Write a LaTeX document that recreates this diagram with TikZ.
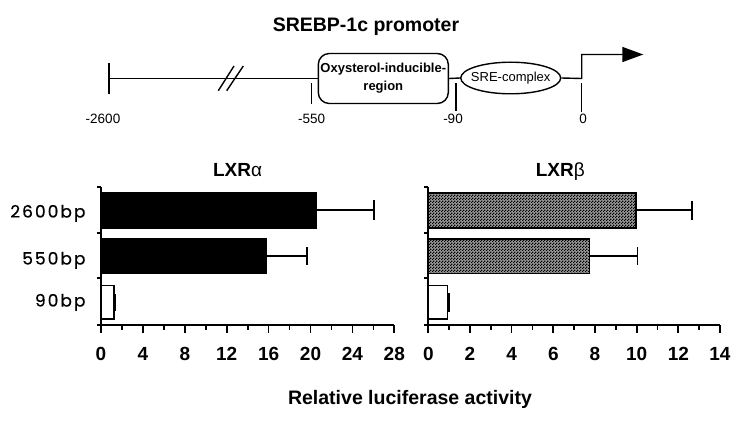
\documentclass[tikz,border=0pt]{standalone}
\usepackage{fontspec}
\setmainfont{Liberation Sans}
\newfontfamily\barfont[LetterSpace=12,FakeBold=0.6]{Poppins}
\usetikzlibrary{arrows.meta,patterns.meta,shapes.geometric}
\tikzdeclarepattern{name=fineDots, type=uncolored,
  bounding box={(0,0) and (2.6pt,2.6pt)}, tile size={(2.6pt,2.6pt)},
  code={\fill (0,0) rectangle (1.4pt,1.4pt); \fill (1.3pt,1.3pt) rectangle (2.6pt,2.6pt);}}
\tikzset{
  ln/.style={line width=1.4pt},
  axisln/.style={line width=1.7pt},
  barblack/.style={draw, line width=1.6pt, fill=black},
  barhatch/.style={draw, line width=1.6pt, fill=black!40, postaction={pattern=fineDots, pattern color=black}},
  barwhite/.style={draw, line width=1.6pt, fill=white},
  errln/.style={line width=1.5pt},
  poslabel/.style={font=\fontsize{13.5}{15}\selectfont},
  ticklabel/.style={font=\bfseries\fontsize{19}{22}\selectfont, anchor=base},
  rowlabel/.style={font=\barfont\fontsize{17}{20}\selectfont, anchor=base east},
  paneltitle/.style={font=\bfseries\fontsize{19}{22}\selectfont, anchor=base}
}
\begin{document}
\begin{tikzpicture}[x=1pt,y=-1pt]
\useasboundingbox (0,0) rectangle (738,425);

% ---------- promoter scheme ----------
\node[font=\bfseries\fontsize{19.5}{23}\selectfont, anchor=base] (title) at (366,31.7) {SREBP-1c promoter};

\coordinate (p0) at (109,78.5);
\node[draw, ln, rounded corners=11pt, minimum width=130pt, minimum height=50pt, inner sep=0pt,
      align=center, font=\bfseries\fontsize{13}{18}\selectfont] (oxy) at (383.3,78.5) {Oxysterol-inducible-\\region};
\node[draw, ln, ellipse, minimum width=100pt, minimum height=31.6pt, inner sep=0pt,
      font=\fontsize{13}{15}\selectfont] (sre) at (510.7,78) {\makebox[0pt]{SRE-complex}};
\coordinate (tss) at (581.7,78.5);
\coordinate (tssup) at (581.7,54.5);
\coordinate (tip) at (643.3,54.5);

\draw[ln] (p0) -- (oxy.west);
\draw[ln] (oxy.east) -- (sre.west);
\draw[ln, -{Triangle[length=21pt,width=15pt]}] (sre.east) -- (tss) -- (tssup) -- (tip);

% break marks
\draw[ln] (218.3,90.7) -- (234,66);
\draw[ln] (226.7,90.7) -- (243.3,66);

% position ticks
\draw[ln] (109,62.7) -- (109,94);
\draw[ln] (311.7,83.3) -- (311.7,104.3);
\draw[ln] (456,83.3) -- (456,110.7);
\draw[ln] (581.7,83.3) -- (581.7,111.7);
\node[poslabel] (l2600) at (103,119) {-2600};
\node[poslabel] (l550) at (311.7,119) {-550};
\node[poslabel] (l90) at (453,119) {-90};
\node[poslabel] (l0) at (583,119) {0};

% ---------- left panel (LXR alpha) ----------
\node[paneltitle] (ta) at (237.5,176) {LXR{\mdseries α}};
\draw[axisln] (101,186.7) -- (101,325) -- (394,325);
\foreach \y in {186.7,233.3,278.3,325} \draw[axisln] (97,\y) -- (101,\y);
\foreach \i in {0,...,7} \draw[axisln] (101+41.9*\i,325) -- (101+41.9*\i,332.5);
\foreach \i in {0,...,6} \draw[axisln] (101+41.9*\i+20.95,325) -- (101+41.9*\i+20.95,330);
\foreach \v [count=\i from 0] in {0,4,8,12,16,20,24,28}
  \node[ticklabel] at (101+41.9*\i,360) {\v};

\draw[barblack] (101,192.7) rectangle (315.7,227.7);
\draw[errln] (315.7,210.2) -- (374,210.2);
\draw[errln] (374,200) -- (374,219.5);
\draw[barblack] (101,239) rectangle (266.3,273.3);
\draw[errln] (266.3,256) -- (307,256);
\draw[errln] (307,247.3) -- (307,264.7);
\draw[barwhite] (101,285.3) rectangle (113.7,318.7);
\draw[line width=2pt] (114.8,294) -- (114.8,310.7);

\node[rowlabel] (r1) at (89,217.5) {2600bp};
\node[rowlabel] (r2) at (89,264.5) {550bp};
\node[rowlabel] (r3) at (89,306.5) {90bp};

% ---------- right panel (LXR beta) ----------
\node[paneltitle] (tb) at (560.3,176) {LXR{\mdseries β}};
\draw[axisln] (428.3,186.7) -- (428.3,325) -- (720,325);
\foreach \y in {186.7,233.3,278.3,325} \draw[axisln] (424.3,\y) -- (428.3,\y);
\foreach \i in {0,...,7} \draw[axisln] (428.3+41.67*\i,325) -- (428.3+41.67*\i,332.5);
\foreach \i in {0,...,6} \draw[axisln] (428.3+41.67*\i+20.83,325) -- (428.3+41.67*\i+20.83,330);
\foreach \v [count=\i from 0] in {0,2,4,6,8,10,12,14}
  \node[ticklabel] at (428.3+41.67*\i,360) {\v};

\draw[barhatch] (428.3,192.7) rectangle (635.7,227.7);
\draw[errln] (635.7,210.2) -- (692,210.2);
\draw[errln] (692,200.7) -- (692,219.5);
\draw[barhatch] (428.3,239) rectangle (589.3,273.3);
\draw[errln] (589.3,256) -- (637.3,256);
\draw[errln] (637.3,247.3) -- (637.3,265);
\draw[barwhite] (428.3,285.3) rectangle (447.3,318.7);
\draw[line width=2pt] (448.6,293) -- (448.6,311.7);

% ---------- common axis title ----------
\node[font=\bfseries\fontsize{19.5}{23}\selectfont, anchor=base] (xt) at (410,404) {Relative luciferase activity};
\end{tikzpicture}
\end{document}
